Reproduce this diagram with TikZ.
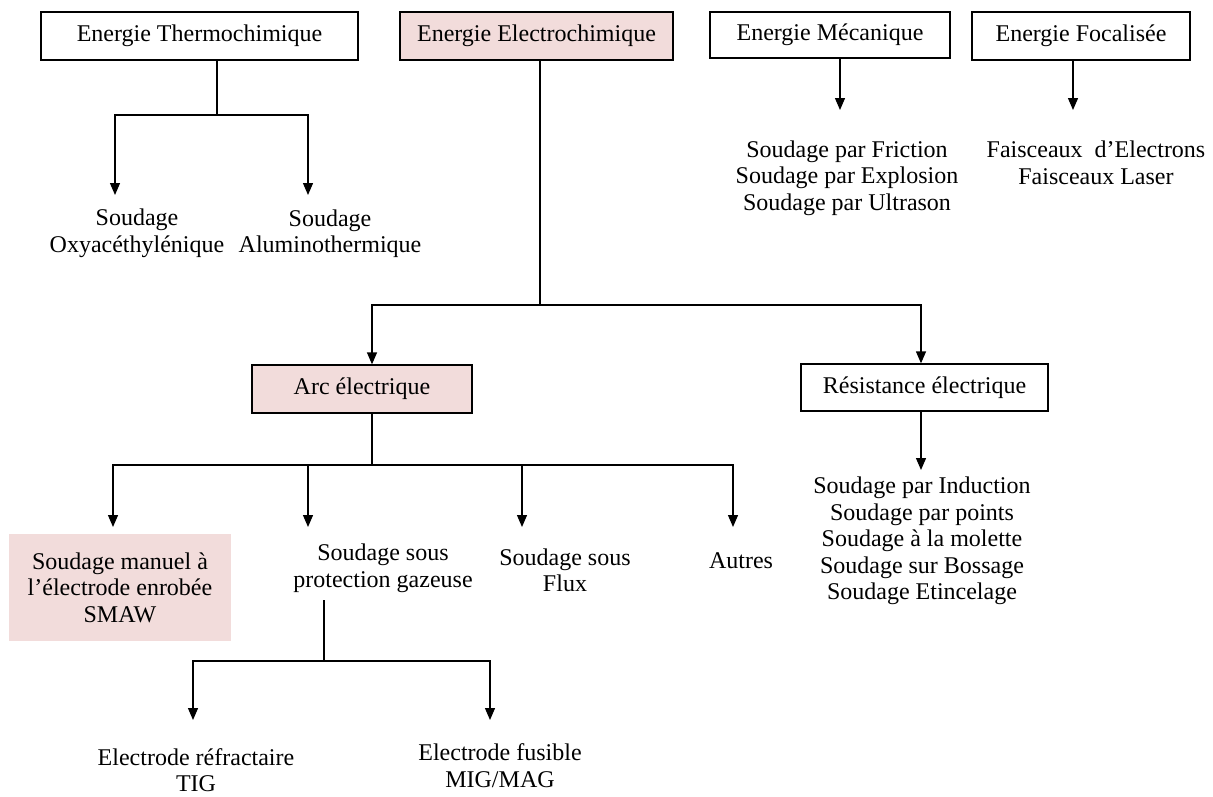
\documentclass[tikz,border=0pt]{standalone}
\usepackage{fontspec}
\setmainfont{Liberation Serif}
\usetikzlibrary{arrows.meta}
\definecolor{pinkfill}{HTML}{F2DCDB}
\begin{document}
\begin{tikzpicture}[x=1pt,y=-1pt,
 txt/.style={font=\fontsize{24}{26.5}\selectfont},
 box/.style={txt,draw,line width=1.3pt,inner sep=0pt},
 lbl/.style={txt,align=center,inner sep=0pt},
 conn/.style={line width=1.3pt},
 arr/.style={line width=1.3pt,-{Triangle[length=12pt,width=10pt]}}]
\useasboundingbox (0,0) rectangle (1213,796);
% boxes
\node[box,minimum width=317pt,minimum height=48pt] (thermo) at (199.5,36) {Energie Thermochimique};
\node[box,fill=pinkfill,minimum width=273pt,minimum height=48pt] (electro) at (536.5,36) {\raisebox{3pt}{Energie Electrochimique}};
\node[box,minimum width=240pt,minimum height=46pt] (meca) at (830,35) {Energie Mécanique};
\node[box,minimum width=218pt,minimum height=48pt] (foca) at (1081,36) {Energie Focalisée};
\node[box,fill=pinkfill,minimum width=220pt,minimum height=48pt] (arc) at (362,389) {Arc électrique};
\node[box,minimum width=247pt,minimum height=47pt] (resist) at (924.5,387.5) {Résistance électrique};
\node[lbl,fill=pinkfill,minimum width=222pt,minimum height=107pt] (smaw) at (120,587.5) {Soudage manuel à\\l’électrode enrobée\\SMAW};
% text nodes
\node[lbl] (oxy) at (137,233.5) {Soudage\\Oxyacéthylénique};
\node[lbl] (alu) at (330,233.5) {Soudage\\Aluminothermique};
\node[lbl] (fric) at (847,178) {Soudage par Friction\\Soudage par Explosion\\Soudage par Ultrason};
\node[lbl] (fais) at (1096,163) {Faisceaux\ \ d’Electrons\\Faisceaux Laser};
\node[lbl] (sousgaz) at (383,568.5) {Soudage sous\\protection gazeuse};
\node[lbl] (flux) at (565,570.5) {Soudage sous\\Flux};
\node[lbl] (autres) at (741,561) {Autres};
\node[lbl] (reslist) at (922,541) {Soudage par Induction\\Soudage par points\\Soudage à la molette\\Soudage sur Bossage\\Soudage Etincelage};
\node[lbl] (tig) at (196,770) {Electrode réfractaire\\TIG};
\node[lbl] (mig) at (500,765.5) {Electrode fusible\\MIG/MAG};
% junctions and arrow ends
\coordinate (tj) at (217,115);
\coordinate (ta1) at (115,195);
\coordinate (ta2) at (308,195);
\coordinate (ej) at (540,305);
\coordinate (ea1) at (372,0);
\coordinate (ea2) at (921,0);
\coordinate (mx) at (840,110);
\coordinate (fx) at (1073,110);
\coordinate (rx) at (921,470);
\coordinate (aj) at (372,465);
\coordinate (aa1) at (113,527);
\coordinate (aa2) at (308,527);
\coordinate (aa3) at (522,527);
\coordinate (aa4) at (733,527);
\coordinate (gs) at (324,600);
\coordinate (gj) at (324,661);
\coordinate (ga1) at (193,720);
\coordinate (ga2) at (490,720);
% connectors
\draw[conn] (tj |- thermo.south) -- (tj);
\draw[arr] (tj) -| (ta1);
\draw[arr] (tj) -| (ta2);
\draw[conn] (ej |- electro.south) -- (ej);
\draw[arr] (ej) -| (ea1 |- arc.north);
\draw[arr] (ej) -| (ea2 |- resist.north);
\draw[arr] (mx |- meca.south) -- (mx);
\draw[arr] (fx |- foca.south) -- (fx);
\draw[arr] (rx |- resist.south) -- (rx);
\draw[conn] (aj |- arc.south) -- (aj);
\draw[arr] (aj) -| (aa1);
\draw[arr] (aj) -| (aa2);
\draw[arr] (aj) -| (aa3);
\draw[arr] (aj) -| (aa4);
\draw[conn] (gs) -- (gj);
\draw[arr] (gj) -| (ga1);
\draw[arr] (gj) -| (ga2);
\end{tikzpicture}
\end{document}
